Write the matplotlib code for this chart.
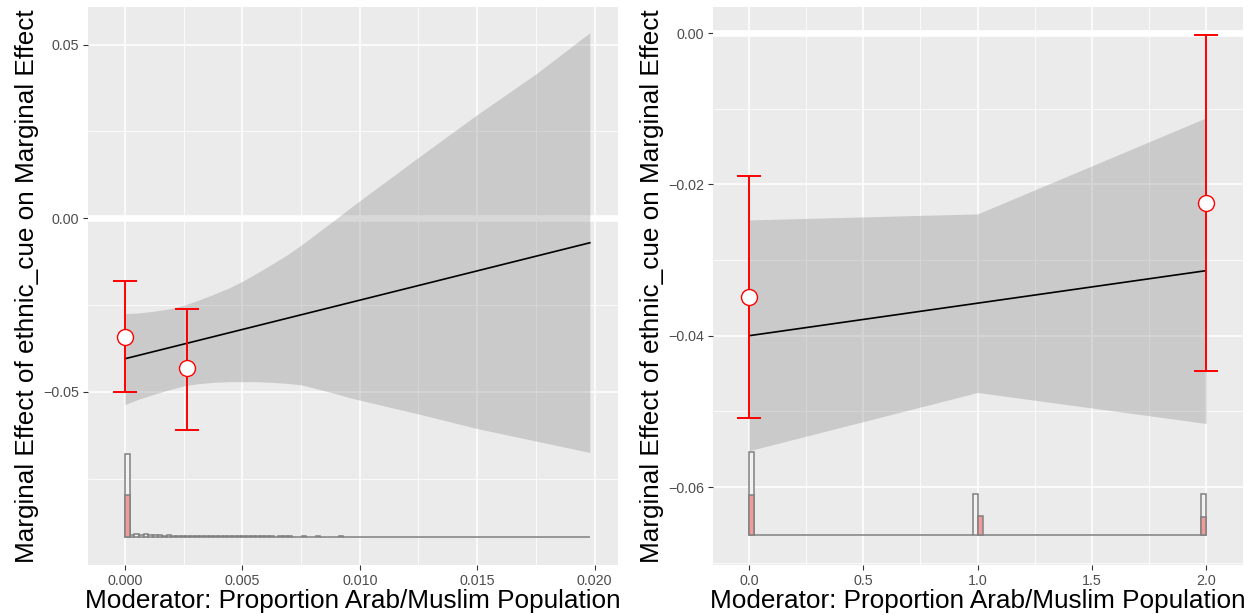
import numpy as np
import matplotlib
matplotlib.use("Agg")
from matplotlib import pyplot as plt
from matplotlib.ticker import MultipleLocator, FuncFormatter

plt.rcParams['font.family'] = ['Liberation Sans', 'DejaVu Sans']

# ---- left panel data ----
left_line_x = [0.0, 0.0198]
left_line_y = [-0.0405, -0.0071]
left_band_x = [0.0, 0.0006, 0.00125, 0.0019, 0.0025, 0.0031, 0.00375, 0.0044, 0.005, 0.0056,
               0.00625, 0.0069, 0.0075, 0.0086, 0.0098, 0.0125, 0.015, 0.0175, 0.0198]
left_band_hi = [-0.0275, -0.0273, -0.0268, -0.0261, -0.0251, -0.0237, -0.0220, -0.0202, -0.0182, -0.0159,
                -0.0133, -0.0106, -0.0078, -0.0022, 0.0040, 0.0175, 0.0298, 0.0415, 0.0534]
left_band_lo = [-0.0537, -0.0521, -0.0507, -0.0494, -0.0483, -0.0477, -0.0473, -0.0471, -0.0471, -0.0471,
                -0.0473, -0.0476, -0.0480, -0.0499, -0.0521, -0.0564, -0.0606, -0.0642, -0.0675]
left_pts_x = [0.0, 0.00264]
left_pts_y = [-0.0342, -0.0433]
left_pts_lo = [-0.0502, -0.0611]
left_pts_hi = [-0.0180, -0.0262]
left_hist_total = [100, 3, 4, 3, 4, 3, 3, 3, 2, 3, 2, 2, 2, 2, 1, 2, 1, 1, 1, 1,
                   1, 1, 1, 1, 1, 1, 1, 1, 1, 1, 1, 1, 0, 1, 1, 1, 0, 0, 1, 0,
                   0, 1, 0, 0, 0, 0, 1, 0, 0, 0, 0, 0, 0, 0, 0, 0, 0, 0, 0, 0,
                   0, 0, 0, 0, 0, 0, 0, 0, 0, 0, 0, 0, 0, 0, 0, 0, 0, 0, 0, 0,
                   0, 0, 0, 0, 0, 0, 0, 0, 0, 0, 0, 0, 0, 0, 0, 0, 0, 0, 0, 0]
left_hist_treated = [51] + [0] * 99

# ---- right panel data ----
right_line_x = [0.0, 2.0]
right_line_y = [-0.0400, -0.0314]
right_band_x = [0.0, 1.0, 2.0]
right_band_hi = [-0.0247, -0.0239, -0.0112]
right_band_lo = [-0.0552, -0.0475, -0.0516]
right_pts_x = [0.0, 2.0]
right_pts_y = [-0.0349, -0.0224]
right_pts_lo = [-0.0509, -0.0447]
right_pts_hi = [-0.0189, -0.0002]
right_total_bins = [0, 44, 89]
right_total_counts = [100, 50, 50]
right_treated_bins = [0, 45, 89]
right_treated_counts = [49, 23, 22]

xlabel = "Moderator: Proportion Arab/Muslim Population"
ylabel = "Marginal Effect of ethnic_cue on Marginal Effect"

fig = plt.figure(figsize=(12.53, 6.15), dpi=100)
ax1 = fig.add_axes([88 / 1253, 1 - 565 / 615, 530 / 1253, 558 / 615])
ax2 = fig.add_axes([713 / 1253, 1 - 565 / 615, 530 / 1253, 558 / 615])


def fmt(decimals):
    return FuncFormatter(lambda v, p: f"{v:.{decimals}f}".replace('-', '\u2212'))


def style(ax):
    ax.set_facecolor('#EBEBEB')
    for s in ax.spines.values():
        s.set_visible(False)
    ax.grid(which='major', color='white', lw=1.1, zorder=0)
    ax.grid(which='minor', color='white', lw=0.55, zorder=0)
    ax.set_axisbelow(True)
    ax.tick_params(which='major', length=3.5, width=0.8, color='#333333',
                   labelcolor='#4D4D4D', labelsize=10.3, pad=3)
    ax.tick_params(which='minor', length=0)
    ax.set_xlabel(xlabel, fontsize=18.8, labelpad=1)
    ax.set_ylabel(ylabel, fontsize=18.8, labelpad=3)


def hist(ax, edges, width, total, treated, base, scale):
    total = np.asarray(total, float) * scale
    treated = np.asarray(treated, float) * scale
    ax.bar(edges, total, width=width, bottom=base, align='edge',
           facecolor='#F2F2F2', edgecolor='#808080', lw=1.1, zorder=3)
    ax.bar(edges[treated > 0], treated[treated > 0], width=width, bottom=base, align='edge',
           facecolor='#F09A9A', edgecolor='#808080', lw=1.1, zorder=3)


def effects(ax, bx, lo, hi, lx, ly, px, py, plo, phi):
    ax.axhline(0, color='white', lw=4.8, zorder=1)
    ax.fill_between(bx, lo, hi, color='#7F7F7F', alpha=0.3, lw=0, zorder=2)
    ax.plot(lx, ly, color='black', lw=1.2, zorder=4)
    py = np.asarray(py)
    ax.errorbar(px, py, yerr=[py - np.asarray(plo), np.asarray(phi) - py], fmt='none',
                ecolor='red', elinewidth=1.4, capsize=8.3, capthick=1.4, zorder=5)
    ax.plot(px, py, 'o', ms=11.5, mfc='white', mec='red', mew=1.0, zorder=6)


# left
style(ax1)
effects(ax1, left_band_x, left_band_lo, left_band_hi, left_line_x, left_line_y,
        left_pts_x, left_pts_y, left_pts_lo, left_pts_hi)
lw_bin = 0.0198 / 100
hist(ax1, np.arange(100) * lw_bin, lw_bin, left_hist_total, left_hist_treated, -0.0919, 0.00024)
ax1.set_xlim(-0.001576, 0.021)
ax1.set_ylim(-0.0999, 0.0608)
ax1.xaxis.set_major_locator(MultipleLocator(0.005))
ax1.xaxis.set_minor_locator(MultipleLocator(0.0025))
ax1.yaxis.set_major_locator(MultipleLocator(0.05))
ax1.yaxis.set_minor_locator(MultipleLocator(0.025))
ax1.xaxis.set_major_formatter(fmt(3))
ax1.yaxis.set_major_formatter(fmt(2))

# right
style(ax2)
effects(ax2, right_band_x, right_band_lo, right_band_hi, right_line_x, right_line_y,
        right_pts_x, right_pts_y, right_pts_lo, right_pts_hi)
rw_bin = 2.0 / 90
r_total = np.zeros(90)
r_total[right_total_bins] = right_total_counts
r_treated = np.zeros(90)
r_treated[right_treated_bins] = right_treated_counts
hist(ax2, np.arange(90) * rw_bin, rw_bin, r_total, r_treated, -0.06635, 0.0001092)
ax2.set_xlim(-0.1575, 2.161)
ax2.set_ylim(-0.0703, 0.00344)
ax2.xaxis.set_major_locator(MultipleLocator(0.5))
ax2.xaxis.set_minor_locator(MultipleLocator(0.25))
ax2.yaxis.set_major_locator(MultipleLocator(0.02))
ax2.yaxis.set_minor_locator(MultipleLocator(0.01))
ax2.xaxis.set_major_formatter(fmt(1))
ax2.yaxis.set_major_formatter(fmt(2))

fig.savefig("out.png", dpi=100)
